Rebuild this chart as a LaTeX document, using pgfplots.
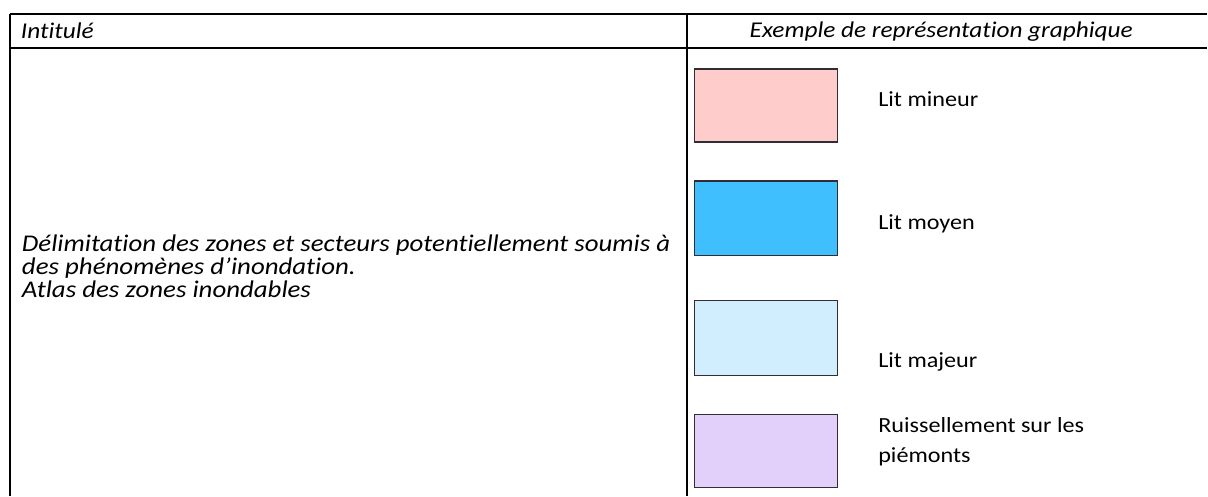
\documentclass[border=0pt]{standalone}
\usepackage{pgfplots}
\pgfplotsset{compat=1.18}
\usepackage{fontspec}
\setmainfont{Carlito}[FakeStretch=1.12, Ligatures=NoCommon]
\definecolor{cpink}{RGB}{255,204,204}
\definecolor{cblue}{RGB}{64,191,255}
\definecolor{clight}{RGB}{208,238,253}
\definecolor{clav}{RGB}{227,208,250}
\definecolor{cedge}{RGB}{50,45,50}
\tikzset{lab/.style={anchor=base west, inner sep=0pt, outer sep=0pt, font=\fontsize{10.8}{12}\selectfont}}
\begin{document}
\begin{tikzpicture}
\begin{axis}[
  width=604pt, height=248pt, scale only axis,
  xmin=0, xmax=1208, ymin=0, ymax=496, y dir=reverse,
  hide axis, clip=false,
]
% full frame for the bounding box
\addplot[draw=none] coordinates {(0,0) (1208,496)};
% table rules
\addplot[black, line width=1pt] coordinates {(10,14) (1208,14)};
\addplot[black, line width=1pt] coordinates {(10,48) (1208,48)};
\addplot[black, line width=1pt] coordinates {(10,14) (10,496)};
\addplot[black, line width=1pt] coordinates {(688,14) (688,496)};
% swatches
\addplot[draw=cedge, line width=0.7pt, fill=cpink]  coordinates {(695,69) (838,69) (838,142) (695,142)} --cycle;
\addplot[draw=cedge, line width=0.7pt, fill=cblue]  coordinates {(695,181) (838,181) (838,256) (695,256)} --cycle;
\addplot[draw=cedge, line width=0.7pt, fill=clight] coordinates {(695,301) (838,301) (838,376) (695,376)} --cycle;
\addplot[draw=cedge, line width=0.7pt, fill=clav]   coordinates {(695,415) (838,415) (838,488) (695,488)} --cycle;
% header texts
\node[lab, font=\fontsize{11.3}{12}\selectfont] at (axis cs:21,39) {\itshape Intitulé};
\node[lab, anchor=base, font=\fontsize{11.3}{12}\selectfont] at (axis cs:942,38) {\itshape Exemple de représentation graphique};
% left column text
\node[lab, font=\fontsize{12}{12}\selectfont] at (axis cs:22,252) {\itshape Délimitation des zones et secteurs potentiellement soumis à};
\node[lab, font=\fontsize{12}{12}\selectfont] at (axis cs:22,275) {\itshape des phénomènes d’inondation.};
\node[lab, font=\fontsize{12}{12}\selectfont] at (axis cs:22,298) {\itshape Atlas des zones inondables};
% swatch labels
\node[lab] at (axis cs:879,107) {Lit mineur};
\node[lab] at (axis cs:879,230) {Lit moyen};
\node[lab] at (axis cs:879,368) {Lit majeur};
\node[lab] at (axis cs:879,433) {Ruissellement sur les};
\node[lab] at (axis cs:879,463) {piémonts};
\end{axis}
\end{tikzpicture}
\end{document}
